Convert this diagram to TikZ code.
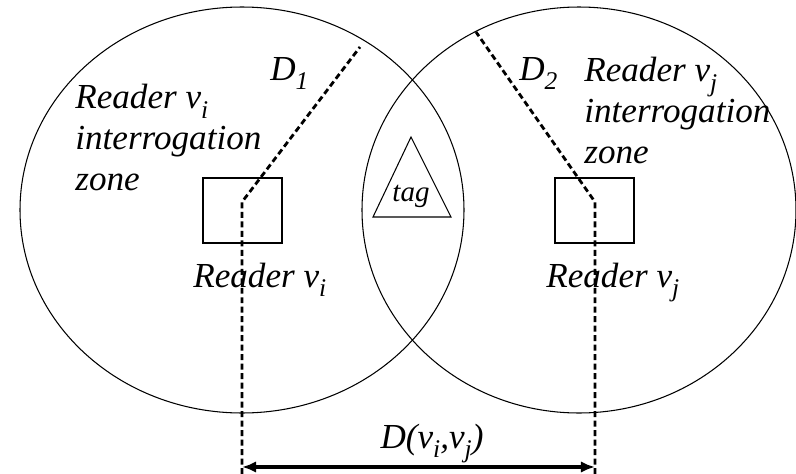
\documentclass[tikz,border=0pt]{standalone}
\usepackage{fontspec}
\setmainfont{Liberation Serif}[ItalicFont={Liberation Serif Italic}]
\usetikzlibrary{arrows.meta}
\tikzset{>={Latex[length=8pt,width=6.5pt]}}
\tikzset{
  zone/.style={line width=0.6pt},
  readerbox/.style={draw,line width=0.6pt,minimum width=1.58cm,minimum height=1.3cm,inner sep=0pt},
  rangeline/.style={line width=1.6pt,dash pattern=on 3.4pt off 2pt},
  lbl/.style={font=\fontsize{20}{23.2}\selectfont\itshape,inner sep=0pt},
}
\newcommand{\lo}[1]{\raisebox{-0.6ex}{\fontsize{14.5}{14.5}\selectfont\itshape #1}}

\begin{document}
\begin{tikzpicture}[x=0.02cm,y=-0.02cm]
  \useasboundingbox (0,0) rectangle (796,474);
  % interrogation zones
  \draw[zone] (242,210) ellipse [x radius=222, y radius=203];
  \draw[zone] (579,210) ellipse [x radius=217, y radius=203];
  % readers
  \node[readerbox] (ri) at (242.5,210.5) {};
  \node[readerbox] (rj) at (594.5,210.5) {};
  \node[lbl,anchor=base west] (ril) at (193,287) {Reader v\lo{i}};
  \node[lbl,anchor=base west] (rjl) at (546,287) {Reader v\lo{j}};
  % tag
  \draw[zone] (411,137) -- (373,217) -- (451,217) -- cycle;
  \node[font=\fontsize{16.5}{16.5}\selectfont\itshape,inner sep=0pt] (tag) at (411,196) {tag};
  % zone texts
  \node[lbl,anchor=base west,align=left] (zi) at (75,190) {Reader v\lo{i}\\interrogation\\zone};
  \node[lbl,anchor=base west,align=left] (zj) at (584,163) {Reader v\lo{j}\\interrogation\\zone};
  % ranges
  \coordinate (bi) at (242,467);
  \coordinate (bj) at (595,467);
  \coordinate (ki) at (242,202);
  \coordinate (kj) at (595,202);
  \coordinate (ei) at (360,47);
  \coordinate (ej) at (476,32);
  \draw[rangeline] (242,474) -- (ki) -- (ei);
  \draw[rangeline] (595,474) -- (kj) -- (ej);
  \node[lbl,anchor=base west] (d1) at (270,80) {D\lo{1}};
  \node[lbl,anchor=base west] (d2) at (519,80) {D\lo{2}};
  % distance
  \draw[<->,line width=2pt] (bi) -- (bj);
  \node[lbl,anchor=base] (dij) at (432,448) {D(v\lo{i},v\lo{j})};
\end{tikzpicture}
\end{document}
